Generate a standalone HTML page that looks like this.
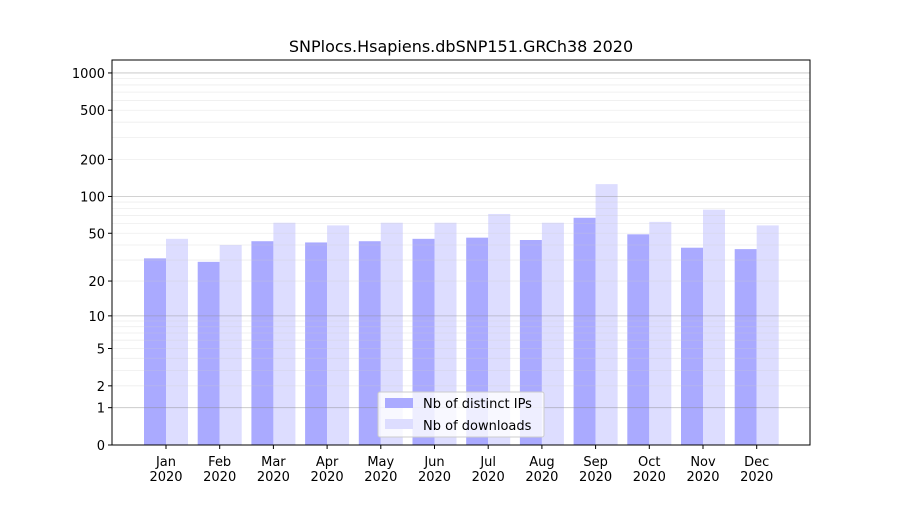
<!DOCTYPE html>
<html><head><meta charset="utf-8"><style>
body{margin:0;background:#fff;font-family:"Liberation Sans","DejaVu Sans",sans-serif}
</style></head><body>
<svg id="chart" width="900" height="500" xmlns="http://www.w3.org/2000/svg" font-family="DejaVu Sans, Liberation Sans, sans-serif">
<rect width="900" height="500" fill="#fff"/>
<text x="461" y="52" text-anchor="middle" font-size="16">SNPlocs.Hsapiens.dbSNP151.GRCh38 2020</text>
<g id="bars"></g><g id="grid"></g><g id="axes"></g>
<g>
<rect x="378" y="392" width="166" height="45" fill="#fff" fill-opacity="0.8" stroke="#ccc" rx="2"/>
<rect x="385" y="398" width="28" height="10" fill="#aaaaff"/>
<text x="423" y="408" font-size="13">Nb of distinct IPs</text>
<rect x="385" y="419" width="28" height="10" fill="#ddddff"/>
<text x="423" y="430" font-size="13">Nb of downloads</text>
</g>
</svg>
<script>
const months=["Jan","Feb","Mar","Apr","May","Jun","Jul","Aug","Sep","Oct","Nov","Dec"];
const ips=[31,29,43,42,43,45,46,44,67,49,38,37];
const downloads=[45,40,61,58,61,61,72,61,126,62,78,58];
const tickValues=[0,1,2,5,10,20,50,100,200,500,1000];
const NS="http://www.w3.org/2000/svg";
const X0=112,X1=810,Y0=60,Y1=445;
function y(v){return Y1-124*Math.log10(1+v);}
function xc(i){return 165+i*53.7;}
function mk(tag,a,p){const e=document.createElementNS(NS,tag);for(const k in a)e.setAttribute(k,a[k]);p.appendChild(e);return e;}
const grid=document.getElementById('grid'),bars=document.getElementById('bars'),axes=document.getElementById('axes');
[1,10,100,1000].forEach(d=>{for(let m=1;m<10;m++){const v=d*m;const yy=y(v);if(yy<Y0)continue;
const l=mk('line',{x1:X0,x2:X1,y1:yy,y2:yy,stroke:m==1?'#888':'#ccc','stroke-opacity':m==1?0.5:0.35,'stroke-width':0.8},grid);
}});
months.forEach((m,i)=>{
const b1=mk('rect',{x:xc(i)-21,y:y(ips[i]),width:22,height:Y1-y(ips[i]),fill:'#aaaaff'},bars);

const b2=mk('rect',{x:xc(i)+1,y:y(downloads[i]),width:22,height:Y1-y(downloads[i]),fill:'#ddddff'},bars);

mk('line',{x1:xc(i)+1,x2:xc(i)+1,y1:Y1,y2:Y1+4,stroke:'#000'},axes);
const t=mk('text',{x:xc(i)+1,y:466,'text-anchor':'middle','font-size':13},axes);t.textContent=m;

const t2=mk('text',{x:xc(i)+1,y:481,'text-anchor':'middle','font-size':13},axes);t2.textContent='2020';

});
tickValues.forEach(v=>{const yy=y(v);mk('line',{x1:X0-4,x2:X0,y1:yy,y2:yy,stroke:'#000'},axes);
const t=mk('text',{x:X0-7,y:yy+5,'text-anchor':'end','font-size':13},axes);t.textContent=v;
});
const f=mk('rect',{x:X0,y:Y0,width:X1-X0,height:Y1-Y0,fill:'none',stroke:'#000','stroke-width':1},axes);

</script>
</body></html>
